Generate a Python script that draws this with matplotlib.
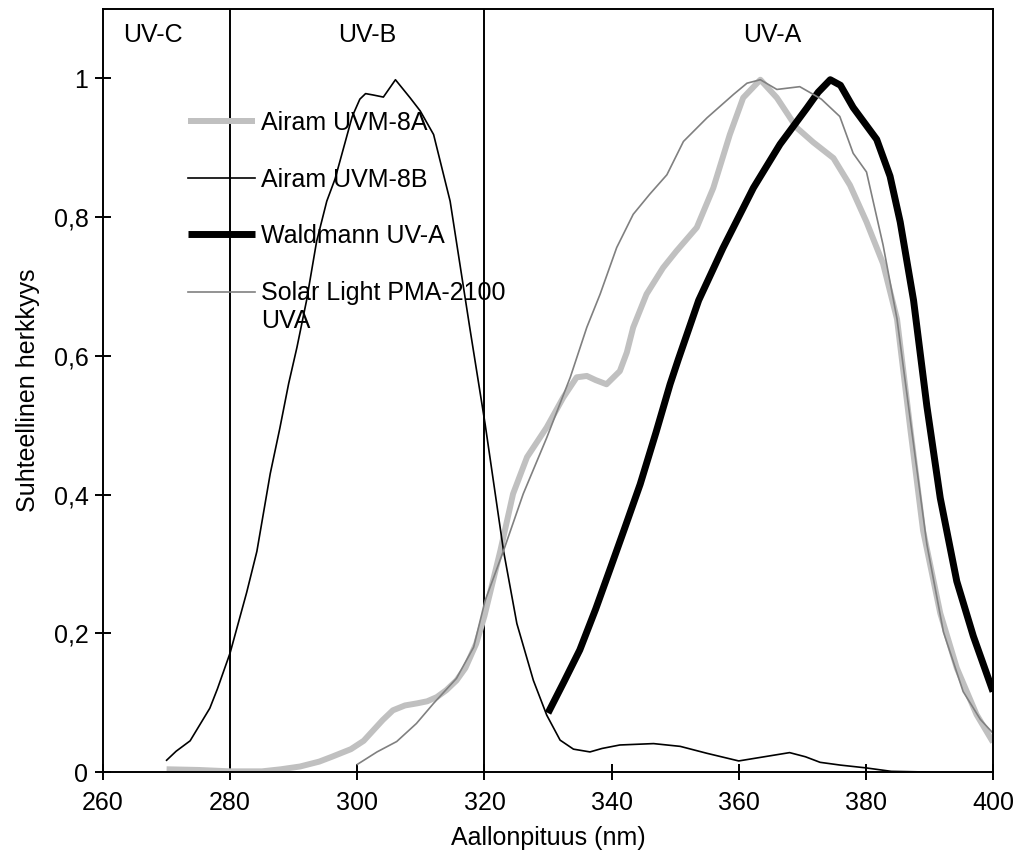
import matplotlib
matplotlib.use('Agg')
import matplotlib.pyplot as plt

plt.rcParams['font.family'] = ['Liberation Sans', 'DejaVu Sans']

# Airam UVM-8A
wl_8a = [270, 275, 280, 285, 288, 291, 294, 296, 299, 301, 302.5, 304, 305.6, 307.5,
         309.4, 311, 312.5, 314, 315.6, 317, 318.7, 320, 322.5, 324.5, 326.7, 329.8,
         332.4, 334.5, 336.1, 337.5, 339.2, 341.3, 342.4, 343.4, 345.5, 348.1, 350.2,
         353.4, 356.0, 358.6, 360.7, 363.4, 366.0, 369.1, 371.7, 374.9, 377.5, 380.1,
         382.7, 384.9, 387.0, 389.0, 391.7, 394.3, 397.4, 400]
val_8a = [0.004, 0.003, 0.001, 0.001, 0.004, 0.008, 0.015, 0.022, 0.033, 0.045, 0.060,
          0.075, 0.089, 0.096, 0.099, 0.102, 0.108, 0.118, 0.132, 0.150, 0.185, 0.225,
          0.319, 0.401, 0.454, 0.497, 0.540, 0.569, 0.571, 0.565, 0.559, 0.578, 0.605,
          0.641, 0.689, 0.727, 0.751, 0.785, 0.842, 0.919, 0.972, 0.998, 0.972, 0.929,
          0.908, 0.885, 0.846, 0.793, 0.733, 0.653, 0.494, 0.348, 0.229, 0.150, 0.083,
          0.043]

# Airam UVM-8B
wl_8b = [270, 271.5, 273.7, 276.8, 278, 280, 282.6, 284.2, 286.3, 287.8, 289.2, 290.5,
         292.0, 293.6, 295.2, 296.5, 298.0, 299.2, 300.4, 301.3, 302.5, 304.1, 306,
         308.3, 309.9, 312, 314.6, 317.7, 320.1, 323.0, 325.1, 327.7, 329.8, 331.9, 334,
         336.6, 338.5, 341.3, 346.6, 350.8, 355, 360, 364, 368, 370.5, 372.8, 376, 380,
         384, 390]
val_8b = [0.017, 0.03, 0.045, 0.092, 0.12, 0.172, 0.259, 0.318, 0.430, 0.495, 0.560,
          0.612, 0.679, 0.765, 0.823, 0.855, 0.905, 0.945, 0.970, 0.978, 0.976, 0.973,
          0.998, 0.972, 0.953, 0.919, 0.823, 0.640, 0.502, 0.319, 0.214, 0.132, 0.082,
          0.046, 0.033, 0.029, 0.034, 0.039, 0.041, 0.037, 0.027, 0.016, 0.022, 0.028,
          0.022, 0.014, 0.010, 0.006, 0.001, 0.0]

# Waldmann UV-A
wl_wa = [330, 332.5, 335, 337.5, 339.7, 342, 344.5, 347, 349.2, 350.5, 353.7, 357.5,
         362.3, 366.5, 370.7, 372.5, 374.4, 376, 378, 381.7, 383.8, 385.4, 387.5,
         389.6, 391.7, 394.3, 396.9, 400]
val_wa = [0.085, 0.13, 0.176, 0.235, 0.291, 0.35, 0.415, 0.49, 0.559, 0.595, 0.68,
          0.755, 0.842, 0.905, 0.957, 0.98, 0.998, 0.99, 0.958, 0.912, 0.859, 0.793,
          0.680, 0.527, 0.395, 0.275, 0.196, 0.116]

# Solar Light PMA-2100 UVA
wl_sl = [300, 303.1, 306.2, 309.3, 312.0, 315.6, 318.3, 320.1, 323.0, 326.1, 329.8,
         333.5, 336.1, 338.2, 340.8, 343.4, 346.0, 348.7, 351.3, 355.0, 359.2, 361.3,
         363.4, 366.0, 369.6, 371.7, 373, 375.9, 378.0, 380.1, 382.7, 384.9, 387.0,
         389.6, 392.2, 395.3, 398.0, 400]
val_sl = [0.011, 0.029, 0.044, 0.070, 0.099, 0.135, 0.180, 0.247, 0.319, 0.401, 0.482,
          0.569, 0.641, 0.689, 0.756, 0.804, 0.833, 0.861, 0.909, 0.943, 0.977, 0.993,
          0.998, 0.984, 0.988, 0.977, 0.970, 0.945, 0.892, 0.865, 0.760, 0.653, 0.507,
          0.328, 0.202, 0.116, 0.076, 0.056]

band_edges = [280, 320]
band_names = ['UV-C', 'UV-B', 'UV-A']
band_pos = [267.8, 301.6, 365.3]

xticks = [260, 280, 300, 320, 340, 360, 380, 400]
yticks = [0, 0.2, 0.4, 0.6, 0.8, 1]
ytick_labels = ['0', '0,2', '0,4', '0,6', '0,8', '1']

fs = 18

fig = plt.figure(figsize=(10.19, 8.63), dpi=100)
ax = fig.add_axes([0.1011, 0.1054, 0.8734, 0.8842])

ax.plot(wl_8a, val_8a, color='#c0c0c0', lw=4.3, solid_joinstyle='round',
        solid_capstyle='butt', label='Airam UVM-8A')
ax.plot(wl_8b, val_8b, color='black', lw=1.2, label='Airam UVM-8B')
ax.plot(wl_wa, val_wa, color='black', lw=5, solid_joinstyle='round',
        solid_capstyle='butt', label='Waldmann UV-A')
ax.plot(wl_sl, val_sl, color='#808080', lw=1.2, label='Solar Light PMA-2100\nUVA')

for x in band_edges:
    ax.axvline(x, color='black', lw=1.4, zorder=1)
for name, x in zip(band_names, band_pos):
    ax.text(x, 1.062, name, ha='center', va='center', fontsize=fs)

ax.set_xlim(260, 400)
ax.set_ylim(0, 1.1)
ax.set_xticks(xticks)
ax.set_yticks(yticks)
ax.set_yticklabels(ytick_labels)
ax.tick_params(direction='inout', length=11, width=1.4, labelsize=fs)
ax.tick_params(axis='x', pad=8)
ax.tick_params(axis='y', pad=5)
for s in ax.spines.values():
    s.set_linewidth(1.4)

ax.set_xlabel('Aallonpituus (nm)', fontsize=fs, labelpad=8)
ax.set_ylabel('Suhteellinen herkkyys', fontsize=fs, labelpad=10)

leg = ax.legend(loc='upper left', bbox_to_anchor=(0.095, 0.866), frameon=False,
                fontsize=fs, handlelength=2.7, handletextpad=0.25, labelspacing=1.3,
                borderpad=0, borderaxespad=0)
# kaksirivisen selitteen viiva ensimmäisen rivin kohdalle
h = leg.legend_handles[3]
h.set_ydata(h.get_ydata() + 0.6 * fs)

fig.savefig('out.png', dpi=100)
